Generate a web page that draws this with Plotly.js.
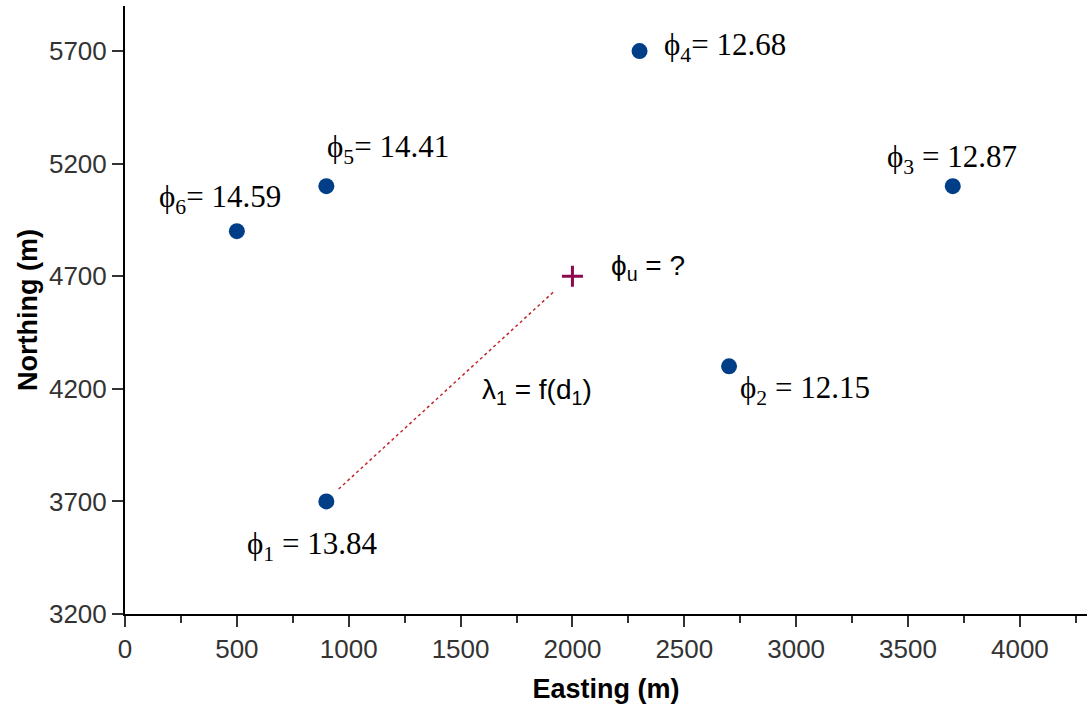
<!DOCTYPE html>
<html>
<head>
<meta charset="utf-8">
<script src="https://cdn.plot.ly/plotly-3.0.1.min.js"></script>
<style>html,body{margin:0;padding:0;background:#fff;}#chart{width:1089px;height:713px;}</style>
</head>
<body>
<div id="chart"></div>
<script>
// Known sample points
const wellNames = ["1", "2", "3", "4", "5", "6"];
const easting = [900, 2700, 3700, 2300, 900, 500];
const northing = [3700, 4300, 5100, 5700, 5100, 4900];
const phiValues = ["13.84", "12.15", "12.87", "12.68", "14.41", "14.59"];
const phiSeparators = [" = ", " = ", " = ", "= ", "= ", "= "];

// Unknown point
const unknownEasting = [2000];
const unknownNorthing = [4700];

// Link line (dotted) from point 1 toward unknown
const linkEasting = [955, 1915];
const linkNorthing = [3755, 4630];

// Label offsets in pixels (style/position only)
const labelShift = [
  {x: -81, y: -45},
  {x: 9, y: -24},
  {x: -68, y: 27},
  {x: 22, y: 4},
  {x: -1, y: 37},
  {x: -80, y: 32}
];

const serif = "Liberation Serif, Times New Roman, serif";
const sans = "Liberation Sans, Arial, sans-serif";

const traces = [
  {
    x: linkEasting, y: linkNorthing, mode: "lines", type: "scatter",
    line: {color: "#c0262d", width: 1.5, dash: "dot"}, hoverinfo: "skip"
  },
  {
    x: easting, y: northing, mode: "markers", type: "scatter",
    marker: {color: "#003f88", size: 16, line: {width: 0}}
  },
  {
    x: unknownEasting, y: unknownNorthing, mode: "markers", type: "scatter",
    marker: {symbol: "cross-thin", size: 15, line: {color: "#8b0a50", width: 3}}
  }
];

const annotations = easting.map((e, i) => ({
  x: e, y: northing[i], xref: "x", yref: "y",
  text: "ϕ<sub>" + wellNames[i] + "</sub>" + phiSeparators[i] + phiValues[i],
  showarrow: false, xanchor: "left", yanchor: "middle",
  xshift: labelShift[i].x, yshift: labelShift[i].y,
  font: {family: serif, size: 31, color: "#000"}
}));

annotations.push({
  x: unknownEasting[0], y: unknownNorthing[0], xref: "x", yref: "y",
  text: "ϕ<sub>u</sub> = ?", showarrow: false, xanchor: "left", yanchor: "middle",
  xshift: 37, yshift: 9,
  font: {family: sans, size: 28, color: "#000"}
});

annotations.push({
  x: (easting[0] + unknownEasting[0]) / 2, y: (northing[0] + unknownNorthing[0]) / 2,
  xref: "x", yref: "y",
  text: "λ<sub>1</sub> = f(d<sub>1</sub>)", showarrow: false, xanchor: "left", yanchor: "middle",
  xshift: 31, yshift: -3,
  font: {family: sans, size: 28, color: "#000"}
});

const layout = {
  width: 1089, height: 713,
  margin: {l: 125, r: 2, t: 6, b: 99},
  paper_bgcolor: "#fff", plot_bgcolor: "#fff",
  showlegend: false,
  xaxis: {
    range: [0, 4300], tick0: 0, dtick: 500,
    showline: true, linecolor: "#000", linewidth: 2,
    ticks: "outside", ticklen: 11, tickwidth: 2, tickcolor: "#333",
    minor: {dtick: 250, ticks: "outside", ticklen: 7, tickwidth: 2, tickcolor: "#333", showgrid: false},
    showgrid: false, zeroline: false,
    tickfont: {family: sans, size: 26, color: "#333"},
    title: {text: "Easting (m)", font: {family: sans, size: 27, color: "#000", weight: "bold"}, standoff: 16}
  },
  yaxis: {
    range: [3200, 5900], tick0: 3200, dtick: 500,
    showline: true, linecolor: "#000", linewidth: 2,
    ticks: "outside", ticklen: 11, tickwidth: 2, tickcolor: "#333",
    showgrid: false, zeroline: false,
    tickfont: {family: sans, size: 26, color: "#333"},
    title: {text: "Northing (m)", font: {family: sans, size: 27, color: "#000", weight: "bold"}, standoff: 4}
  },
  annotations: annotations
};

Plotly.newPlot("chart", traces, layout, {displayModeBar: false, staticPlot: true});
</script>
</body>
</html>
